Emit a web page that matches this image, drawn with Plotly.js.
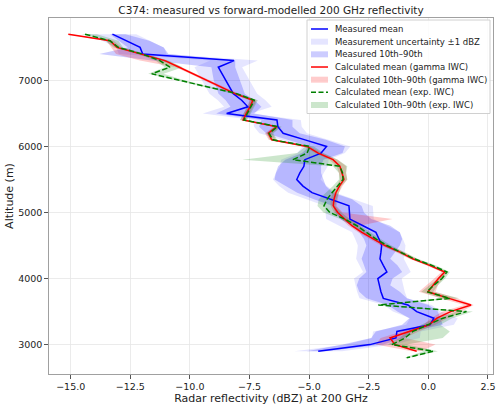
<!DOCTYPE html>
<html>
<head>
<meta charset="utf-8">
<script src="https://cdn.plot.ly/plotly-3.0.1.min.js"></script>
<style>
  html, body { margin: 0; padding: 0; background: #fff; }
  #chart { width: 500px; height: 408px; }
</style>
</head>
<body>
<div id="chart"></div>
<script>
// Altitude levels (m), top to bottom
const alt = [7700, 7600, 7500, 7400, 7300, 7200, 7100, 7000, 6900, 6800,
             6700, 6600, 6500, 6400, 6300, 6200, 6100, 6000, 5900, 5800,
             5700, 5600, 5500, 5400, 5300, 5200, 5100, 5000, 4900, 4800,
             4700, 4600, 4500, 4400, 4300, 4200, 4100, 4000, 3900, 3800,
             3700, 3600, 3500, 3400, 3300, 3200, 3100, 3000, 2900, 2800];

// Measured reflectivity (dBZ)
const measMean = [-13.25, -12.67, -12.09, -11.98, -8.15, -8.81, -8.65, -8.50, -8.34, -8.18,
                  -7.83, -7.57, -8.46, -6.35, -6.31, -6.09, -5.17, -4.27, -4.50, -5.18,
                  -5.22, -5.39, -5.52, -5.26, -4.88, -4.13, -3.33, -3.31, -3.29, -2.74,
                  -2.20, -2.07, -1.96, -1.99, -2.03, -1.89, -1.74, -2.12, -2.06, -1.99,
                  -1.89, -0.86, -0.49, 0.23, 0.07, -1.32, -1.36, -2.45, -4.62, null];
const measP10 = [-13.35, -13.00, -12.60, -13.80, -11.60, -9.10, -9.05, -9.00, -8.90, -8.80,
                 -8.50, -8.30, -8.90, -7.00, -7.10, -6.80, -5.90, -5.00, -5.30, -6.00,
                 -6.30, -6.40, -6.45, -6.00, -5.50, -4.80, -4.00, -3.90, -3.70, -3.20,
                 -2.90, -2.70, -2.60, -2.70, -2.80, -2.70, -2.60, -2.90, -3.00, -2.90,
                 -2.60, -1.70, -1.30, -0.80, -1.10, -2.20, -2.40, -3.60, -5.10, null];
const measP90 = [-12.70, -11.70, -11.10, -10.90, -8.10, -8.10, -8.00, -7.90, -7.80, -7.70,
                 -7.30, -7.00, -7.30, -5.70, -5.70, -5.40, -4.30, -3.50, -3.60, -4.40,
                 -4.50, -4.50, -4.40, -4.30, -4.00, -3.20, -2.80, -2.70, -2.40, -1.60,
                 -1.20, -1.10, -1.20, -1.40, -1.60, -1.30, -1.10, -1.50, -1.60, -1.20,
                 -0.90, 0.00, 0.40, 0.50, 0.60, -0.70, -1.00, -1.90, -4.30, null];
const measUncertainty = 1.0;   // dBZ

// Forward-modelled reflectivity, gamma IWC (dBZ)
const gammaMean = [-15.10, -13.35, -13.06, -12.02, -11.05, -10.45, -9.86, -9.28, -8.69, -8.11,
                   -7.36, -7.48, -7.64, -7.77, -6.36, -6.71, -6.57, -5.09, -4.62, -4.00,
                   -3.71, -3.62, -3.54, -3.73, -3.88, -3.96, -3.99, -3.80, -3.50, -3.21,
                   -2.79, -2.32, -1.82, -1.19, -0.66, 0.05, 0.69, 0.42, 0.19, -0.02,
                   0.86, 1.79, 0.93, 0.36, 0.03, -0.77, -1.61, -1.40, -0.49, null];
const gammaP10 = [-15.15, -13.50, -13.30, -13.10, -12.10, -10.60, -10.00, -9.40, -8.80, -8.25,
                  -7.50, -7.60, -7.75, -7.90, -6.50, -6.85, -6.70, -5.25, -4.75, -4.15,
                  -3.85, -3.75, -3.70, -3.85, -4.00, -4.10, -4.10, -3.95, -3.65, -3.35,
                  -2.95, -2.50, -2.00, -1.35, -0.80, -0.10, 0.55, 0.25, -0.10, -0.40,
                  0.50, 1.50, 0.60, 0.10, -0.20, -1.10, -2.00, -2.20, -0.70, null];
const gammaP90 = [-15.02, -13.20, -12.85, -11.85, -10.95, -10.35, -9.75, -9.15, -8.55, -7.95,
                  -7.20, -7.35, -7.50, -7.65, -6.20, -6.55, -6.40, -4.95, -4.45, -3.80,
                  -3.45, -3.45, -3.40, -3.60, -3.75, -3.80, -3.85, -3.60, -1.50, -2.90,
                  -2.60, -2.15, -1.65, -1.00, -0.50, 0.20, 0.80, 0.60, 0.40, 0.30,
                  1.20, 1.90, 1.40, 0.80, 0.30, -0.40, -1.00, 0.30, -0.30, null];

// Forward-modelled reflectivity, exponential IWC (dBZ)
const expMean = [-14.40, -13.35, -13.00, -12.00, -11.26, -10.84, -11.60, -10.42, -9.24, -8.04,
                 -7.30, -7.45, -7.62, -7.74, -6.32, -6.68, -6.52, -4.97, -5.09, -5.68,
                 -3.71, -3.60, -3.58, -3.83, -4.04, -4.25, -4.38, -4.13, -3.50, -3.00,
                 -2.62, -2.20, -1.74, -1.15, -0.60, 0.15, 0.78, 0.57, 0.23, -0.06,
                 0.90, -2.10, 1.60, 0.61, -0.01, -0.65, -0.98, -1.53, 0.20, -0.91];
const expP10 = [-14.55, -13.55, -13.20, -12.20, -11.45, -11.05, -11.75, -10.60, -9.40, -8.20,
                -7.45, -7.60, -7.75, -7.90, -6.45, -6.80, -6.65, -5.15, -5.50, -7.80,
                -4.00, -3.75, -3.75, -4.00, -4.30, -4.60, -4.65, -4.40, -3.70, -3.15,
                -2.80, -2.35, -1.90, -1.30, -0.75, 0.00, 0.60, 0.40, 0.05, -0.30,
                0.55, -2.18, 1.20, 0.30, -0.30, -0.90, -1.20, -1.70, -0.20, -1.00];
const expP90 = [-13.90, -13.00, -12.80, -11.80, -10.90, -10.30, -11.10, -10.20, -9.05, -7.90,
                -7.15, -7.30, -7.45, -7.60, -6.15, -6.50, -6.35, -4.80, -4.40, -3.80,
                -3.40, -3.45, -3.40, -3.65, -3.75, -3.85, -3.90, -3.65, -3.30, -2.85,
                -2.45, -2.00, -1.55, -1.00, -0.45, 0.30, 0.90, 0.70, 0.40, 0.20,
                1.30, -2.00, 1.87, 1.00, 0.50, 0.90, 0.60, -0.90, 0.40, -0.80];

const legendLabels = [
  'Measured mean',
  'Measurement uncertainty \u00b11 dBZ',
  'Measured 10th\u201390th',
  'Calculated mean (gamma IWC)',
  'Calculated 10th\u201390th (gamma IWC)',
  'Calculated mean (exp. IWC)',
  'Calculated 10th\u201390th (exp. IWC)'
];

const FONT = 'DejaVu Sans, Arial, sans-serif';
const BLUE = '#0000ff', RED = '#ff0000', GREEN = '#008000';
const FILL_UNC = 'rgba(0,0,255,0.10)';
const FILL_MEAS = 'rgba(0,0,255,0.20)';
const FILL_GAMMA = 'rgba(255,0,0,0.20)';
const FILL_EXP = 'rgba(0,128,0,0.20)';

// Points of a series that exist (non-null)
function series(xs) {
  const x = [], y = [];
  xs.forEach((v, i) => { if (v !== null) { x.push(v); y.push(alt[i]); } });
  return { x, y };
}

// Closed polygon between a low and a high profile
function band(lo, hi, fill, name) {
  const idx = alt.map((_, i) => i).filter(i => lo[i] !== null && hi[i] !== null);
  const x = idx.map(i => lo[i]).concat(idx.slice().reverse().map(i => hi[i]));
  const y = idx.map(i => alt[i]).concat(idx.slice().reverse().map(i => alt[i]));
  return { type: 'scatter', mode: 'lines', x, y, fill: 'toself', fillcolor: fill,
           line: { width: 0 }, hoverinfo: 'skip', name, showlegend: false };
}

function line(xs, color, dash, name) {
  const s = series(xs);
  return { type: 'scatter', mode: 'lines', x: s.x, y: s.y, name, showlegend: false,
           line: { color, width: 1.5, dash } };
}

const uncLo = measMean.map(v => v === null ? null : v - measUncertainty);
const uncHi = measMean.map(v => v === null ? null : v + measUncertainty);

const traces = [
  band(uncLo, uncHi, FILL_UNC, legendLabels[1]),
  band(measP10, measP90, FILL_MEAS, legendLabels[2]),
  band(gammaP10, gammaP90, FILL_GAMMA, legendLabels[4]),
  band(expP10, expP90, FILL_EXP, legendLabels[6]),
  line(measMean, BLUE, 'solid', legendLabels[0]),
  line(gammaMean, RED, 'solid', legendLabels[3]),
  line(expMean, GREEN, '5.5px,2.4px', legendLabels[5])
];

// Layout geometry
const W = 500, H = 408;
const M = { l: 49, r: 7, t: 18, b: 34 };
const px = p => (p - M.l) / (W - M.l - M.r);
const py = p => (H - M.b - p) / (H - M.t - M.b);

// Legend drawn as shapes + annotations (compact row spacing)
const legendItems = [
  { kind: 'line', color: BLUE, dash: 'solid' },
  { kind: 'patch', fill: FILL_UNC },
  { kind: 'patch', fill: FILL_MEAS },
  { kind: 'line', color: RED, dash: 'solid' },
  { kind: 'patch', fill: FILL_GAMMA },
  { kind: 'line', color: GREEN, dash: 'dash' },
  { kind: 'patch', fill: FILL_EXP }
];
const box = { x0: 307, x1: 490, y0: 20, y1: 113.5 };
const row0 = 29, rowStep = 12.67;
const symX0 = 311, symX1 = 328, textX = 334;

const shapes = [{
  type: 'rect', xref: 'paper', yref: 'paper', layer: 'above',
  x0: px(box.x0), x1: px(box.x1), y0: py(box.y1), y1: py(box.y0),
  fillcolor: 'rgba(255,255,255,0.85)', line: { color: '#d0d0d0', width: 1 }
}];
const annotations = [];
legendItems.forEach((it, i) => {
  const yc = row0 + i * rowStep;
  if (it.kind === 'line') {
    shapes.push({ type: 'line', xref: 'paper', yref: 'paper', layer: 'above',
      x0: px(symX0), x1: px(symX1), y0: py(yc), y1: py(yc),
      line: { color: it.color, width: 1.5, dash: it.dash === 'dash' ? '5px,2.5px' : 'solid' } });
  } else {
    shapes.push({ type: 'rect', xref: 'paper', yref: 'paper', layer: 'above',
      x0: px(symX0), x1: px(symX1), y0: py(yc + 3), y1: py(yc - 3),
      fillcolor: it.fill, line: { width: 0 } });
  }
  annotations.push({ xref: 'paper', yref: 'paper', x: px(textX), y: py(yc),
    xanchor: 'left', yanchor: 'middle', showarrow: false, text: legendLabels[i],
    font: { family: FONT, size: 8.5, color: '#222' }, borderpad: 0 });
});

const axisCommon = {
  showline: true, mirror: true, linecolor: '#a0a0a0', linewidth: 1.2,
  showgrid: true, gridcolor: '#e6e6e6', gridwidth: 0.8, zeroline: false,
  ticks: 'outside', ticklen: 3.5, tickwidth: 1, tickcolor: '#555',
  tickfont: { family: FONT, size: 9.5, color: '#222' }
};

const layout = {
  width: W, height: H, margin: M,
  paper_bgcolor: '#fff', plot_bgcolor: '#fff',
  showlegend: false,
  font: { family: FONT, color: '#222' },
  title: { text: 'C374: measured vs forward-modelled 200 GHz reflectivity',
           font: { family: FONT, size: 10.5, color: '#222' },
           xref: 'paper', x: 0.5, xanchor: 'center',
           yref: 'container', y: 1 - 10 / H, yanchor: 'middle' },
  xaxis: Object.assign({}, axisCommon, {
    range: [-15.91, 2.71], dtick: 2.5, tick0: 0, tickformat: '.1f',
    title: { text: 'Radar reflectivity (dBZ) at 200 GHz', standoff: 0,
             font: { family: FONT, size: 11, color: '#222' } }
  }),
  yaxis: Object.assign({}, axisCommon, {
    range: [2555, 7945], dtick: 1000, tick0: 0, tickformat: 'd',
    title: { text: 'Altitude (m)', standoff: 2,
             font: { family: FONT, size: 11, color: '#222' } }
  }),
  shapes, annotations
};

Plotly.newPlot('chart', traces, layout, { staticPlot: true, displayModeBar: false });
</script>
</body>
</html>
